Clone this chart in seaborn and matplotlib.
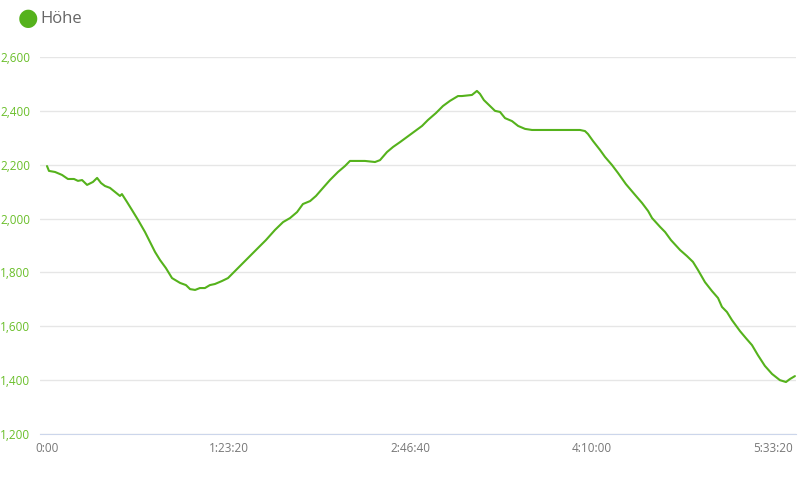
import pandas as pd
import seaborn as sns
import matplotlib.pyplot as plt
from matplotlib.ticker import FuncFormatter, FixedLocator

# elapsed time (minutes) and elevation (m)
minutes = [0, 0.9, 3.7, 6.9, 9.6, 12.4, 14.2, 16.1, 18.4, 21.1, 23.0, 24.8, 26.6, 28.9,
           31.2, 33.5, 34.4, 36.7, 39.0, 41.8, 45.0, 47.3, 49.6, 51.9, 54.6, 57.4, 61.1,
           63.8, 65.7, 68.0, 70.2, 72.5, 74.8, 77.1, 80.3, 83.1, 86.3, 89.5, 93.2, 96.9,
           100.5, 104.7, 108.4, 111.6, 114.8, 117.5, 120.8, 123.5, 126.3, 129.9, 133.6,
           136.8, 139.1, 141.4, 146.0, 150.6, 152.9, 156.1, 158.9, 162.1, 165.3, 169.0,
           172.2, 174.9, 178.6, 181.8, 185.0, 188.7, 190.5, 195.1, 197.4, 198.8, 200.6,
           203.4, 205.7, 208.0, 210.3, 213.5, 216.3, 219.5, 222.7, 226.4, 231.0, 235.5,
           240.1, 244.7, 247.0, 248.4, 250.7, 253.9, 256.2, 259.4, 262.2, 265.8, 270.0,
           273.2, 276.0, 277.8, 281.5, 283.8, 286.5, 290.7, 293.8, 296.6, 298.9, 302.1,
           305.3, 308.1, 309.9, 312.2, 314.5, 318.2, 320.9, 323.7, 326.4, 329.6, 332.9,
           336.5, 339.3, 341.1, 343.4]
elevation = [2195, 2177, 2173, 2162, 2147, 2147, 2140, 2143, 2125, 2136, 2151, 2132, 2121,
             2114, 2099, 2084, 2091, 2062, 2032, 1995, 1950, 1913, 1876, 1846, 1816, 1779,
             1761, 1753, 1738, 1735, 1742, 1742, 1753, 1757, 1768, 1779, 1805, 1831, 1861,
             1891, 1920, 1958, 1987, 2002, 2024, 2054, 2065, 2084, 2110, 2143, 2173, 2195,
             2214, 2214, 2214, 2210, 2217, 2247, 2266, 2284, 2303, 2325, 2344, 2366, 2392,
             2418, 2437, 2455, 2455, 2459, 2474, 2463, 2440, 2418, 2400, 2396, 2373, 2362,
             2344, 2333, 2329, 2329, 2329, 2329, 2329, 2329, 2325, 2314, 2288, 2255, 2229,
             2199, 2169, 2128, 2088, 2058, 2028, 2002, 1969, 1950, 1920, 1883, 1861, 1839,
             1809, 1764, 1731, 1705, 1672, 1653, 1623, 1582, 1556, 1530, 1493, 1453, 1423,
             1400, 1393, 1404, 1415]
x_ticks = [0, 5000, 10000, 15000, 20000]
y_ticks = [1200, 1400, 1600, 1800, 2000, 2200, 2400, 2600]

df = pd.DataFrame({'seconds': [m * 60 for m in minutes], 'Höhe': elevation})

sns.set_style('white')
plt.rcParams['font.family'] = ['Open Sans', 'DejaVu Sans']

green = '#55b21c'
fig = plt.figure(figsize=(8, 5), dpi=100)
ax = fig.add_axes([0.05, 0.132, 0.945, 0.754])
sns.lineplot(data=df, x='seconds', y='Höhe', color=green, linewidth=1.5, ax=ax)

ax.set_xlim(-193, 20634)
ax.set_ylim(1200, 2600)
ax.yaxis.set_major_locator(FixedLocator(y_ticks))
ax.xaxis.set_major_locator(FixedLocator(x_ticks))

def hms(v, pos):
    v = int(round(v))
    return f'{v // 3600}:{(v % 3600) // 60:02d}' + (f':{v % 60:02d}' if v else '')

ax.xaxis.set_major_formatter(FuncFormatter(hms))
ax.yaxis.set_major_formatter(FuncFormatter(lambda v, p: f'{int(v):,}'))
ax.grid(axis='y', color='#e6e6e6', linewidth=1)
ax.set_axisbelow(True)
for s in ['top', 'right', 'left']:
    ax.spines[s].set_visible(False)
ax.spines['bottom'].set_color('#ccd6eb')
ax.tick_params(axis='y', colors='#6abf2a', labelsize=8.5, length=0, pad=7)
ax.tick_params(axis='x', colors='#777777', labelsize=8.5, length=0, pad=6)
ax.set_xlabel('')
ax.set_ylabel('')

fig.text(0.035, 0.963, '\u25cf', color=green, fontsize=17, ha='center', va='center')
fig.text(0.051, 0.962, 'Höhe', color='#666666', fontsize=12, ha='left', va='center')

fig.savefig('out.png', dpi=100)
